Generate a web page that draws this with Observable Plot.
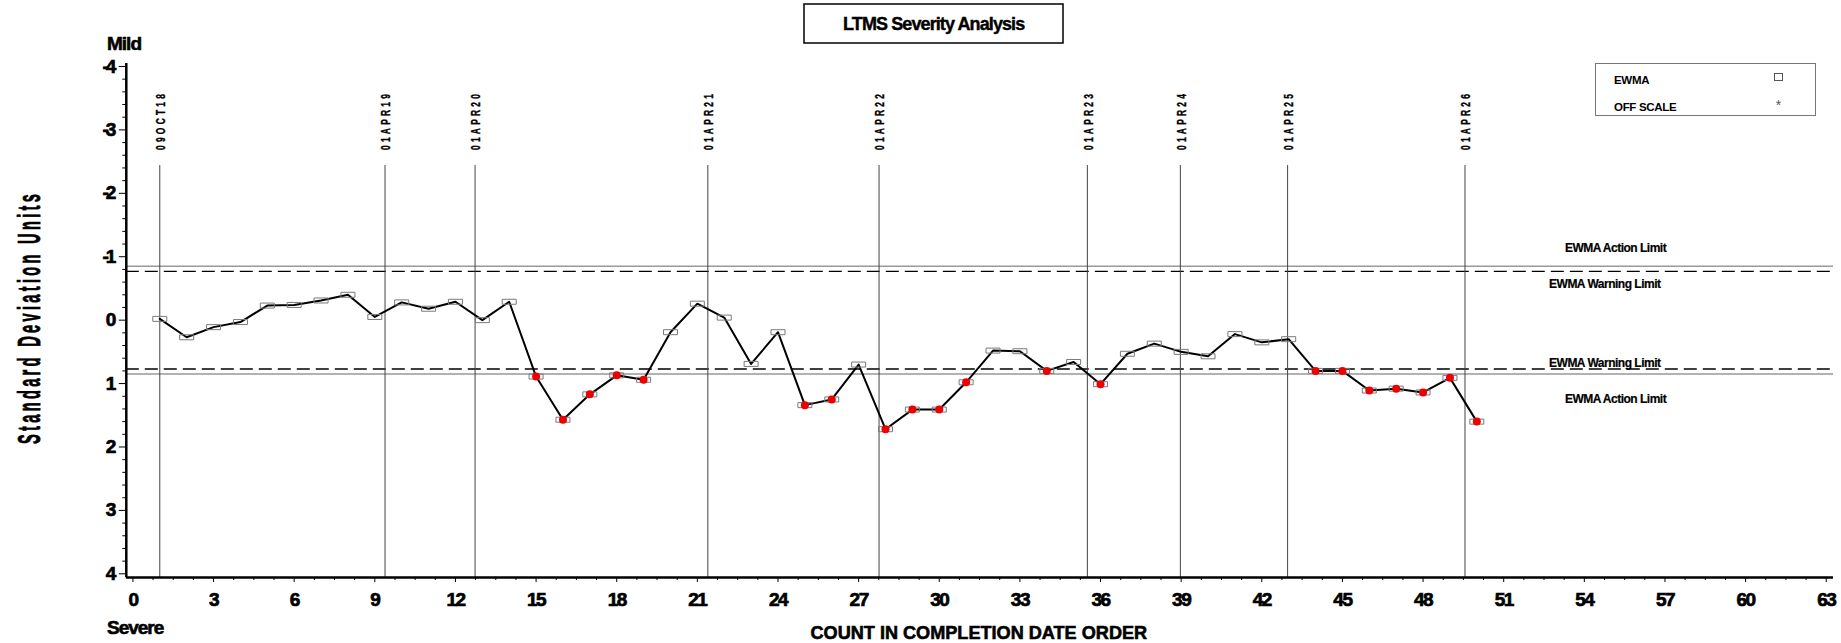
<!DOCTYPE html>
<html>
<head>
<meta charset="utf-8">
<script src="https://cdn.jsdelivr.net/npm/d3@7"></script>
<script src="https://cdn.jsdelivr.net/npm/@observablehq/plot@0.6"></script>
<style>
  body { margin: 0; background: #fff; }
  #chart { position: relative; width: 1841px; height: 643px; }
  #chart svg { display: block; }
</style>
</head>
<body>
<div id="chart"></div>
<script>
// ---- data ----
const counts = d3.range(1, 51);
const ewma = [-0.02, 0.27, 0.11, 0.03, -0.23, -0.24, -0.31, -0.40, -0.05, -0.28,
              -0.18, -0.29, 0.00, -0.29, 0.89, 1.57, 1.17, 0.87, 0.94, 0.19,
              -0.26, -0.04, 0.69, 0.19, 1.34, 1.25, 0.70, 1.72, 1.41, 1.41,
              0.98, 0.48, 0.49, 0.80, 0.66, 1.01, 0.53, 0.37, 0.50, 0.57,
              0.22, 0.35, 0.30, 0.80, 0.80, 1.11, 1.08, 1.14, 0.91, 1.60];
const warningLimit = 0.77;
const actionLimit = 0.85;
const dateLabels = ["09OCT18", "01APR19", "01APR20", "01APR21", "01APR22", "01APR23", "01APR24", "01APR25", "01APR26"];
const datePositions = [1.0, 9.38, 12.73, 21.39, 27.76, 35.51, 38.97, 42.96, 49.56];
const xTicks = d3.range(0, 64, 3);
const xMinor = d3.range(0, 253).map(i => i * 0.75).filter(d => d <= 63 && d % 3 !== 0);
const yTicks = d3.range(-4, 5);
const yMinor = d3.range(-20, 21).map(i => i / 5).filter(d => !Number.isInteger(d));

const points = counts.map((c, i) => ({count: c, value: ewma[i]}));
const offLimit = points.filter(d => Math.abs(d.value) > warningLimit);

const xDomain = [-0.246, 63.27];
const yDomain = [4.058, -4.047];
const font = "'Liberation Sans', Arial, Helvetica, sans-serif";

const boxSymbol = {
  draw(ctx) {
    ctx.moveTo(-7, -2.5); ctx.lineTo(7, -2.5); ctx.lineTo(7, 2.5); ctx.lineTo(-7, 2.5); ctx.closePath();
  }
};

const svg = Plot.plot({
  width: 1841,
  height: 643,
  marginLeft: 125.8,
  marginRight: 8,
  marginTop: 63,
  marginBottom: 66,
  x: {domain: xDomain},
  y: {domain: yDomain},
  style: {fontFamily: font, background: "white", color: "#000", overflow: "visible"},
  marks: [
    Plot.ruleY([-actionLimit, actionLimit], {stroke: "#999", strokeWidth: 1.5}),
    Plot.ruleY([-warningLimit, warningLimit], {stroke: "#000", strokeWidth: 1.3, strokeDasharray: "13,6"}),
    Plot.ruleX(datePositions, {y1: -2.438, y2: yDomain[0], stroke: "#444", strokeWidth: 1}),
    Plot.line(points, {x: "count", y: "value", stroke: "#000", strokeWidth: 2}),
    Plot.dot(points, {x: "count", y: "value", symbol: boxSymbol, stroke: "#7a7a7a", strokeWidth: 1, fill: "none"}),
    Plot.dot(offLimit, {x: "count", y: "value", r: 4, fill: "#ee0000", stroke: "none"}),
    // limit labels
    Plot.text(["EWMA Action Limit"], {x: 55.16, y: -actionLimit, dy: -18.4, text: d => d, fontSize: 12, fontWeight: "bold"}),
    Plot.text(["EWMA Warning Limit"], {x: 54.76, y: -warningLimit, dy: 12.5, text: d => d, fontSize: 12, fontWeight: "bold"}),
    Plot.text(["EWMA Warning Limit"], {x: 54.76, y: warningLimit, dy: -5.7, text: d => d, fontSize: 12, fontWeight: "bold"}),
    Plot.text(["EWMA Action Limit"], {x: 55.16, y: actionLimit, dy: 25.2, text: d => d, fontSize: 12, fontWeight: "bold"}),
    // axes
    Plot.axisX(xTicks, {anchor: "bottom", tickSize: 5, tickPadding: 10, label: null, fontSize: 19, fontWeight: "bold"}),
    Plot.axisX(xMinor, {anchor: "bottom", tickSize: 3, tickFormat: () => "", label: null}),
    Plot.axisY(yTicks, {anchor: "left", tickSize: 7, tickPadding: 6, label: null, fontSize: 19, fontWeight: "bold",
      tickFormat: d => d < 0 ? "-" + (-d) : String(d)}),
    Plot.axisY(yMinor, {anchor: "left", tickSize: 3.5, tickFormat: () => "", label: null}),
    Plot.ruleX([xDomain[0]], {stroke: "#000", strokeWidth: 2.5}),
    Plot.ruleY([yDomain[0]], {stroke: "#000", strokeWidth: 2.5})
  ]
});

document.getElementById("chart").appendChild(svg);
const s = d3.select(svg);

// heavier SAS-like tick labels
s.selectAll("g[aria-label]").each(function () {
  const lab = this.getAttribute("aria-label") || "";
  if (/tick label/.test(lab)) {
    d3.select(this).selectAll("text")
      .style("font-weight", "bold").style("font-size", "19px")
      .style("stroke", "#000").style("stroke-width", "0.7px")
      .style("letter-spacing", /^y/.test(lab) ? "-3px" : "-1.5px");
  }
  if (lab === "text") {
    d3.select(this).selectAll("text").style("letter-spacing", "-0.5px")
      .style("stroke", "#000").style("stroke-width", "0.2px");
  }
});

const ann = s.append("g").attr("font-family", font).attr("fill", "#000").attr("text-anchor", "start");

// helper: text squeezed to a given length along its baseline
function squeezed(parent, txt, cx, cy, rot, len, size, spacing, anchor, sw) {
  const g = parent.append("g").attr("transform", `translate(${cx},${cy}) rotate(${rot})`);
  const t = g.append("text").attr("font-size", size).attr("font-weight", "bold")
    .attr("dominant-baseline", "central").attr("text-anchor", "start")
    .attr("stroke", "#000").attr("stroke-width", sw)
    .style("letter-spacing", spacing + "px").text(txt);
  const w = t.node().getComputedTextLength() - spacing;
  const k = len / w;
  const offset = anchor === "middle" ? -len / 2 : 0;
  t.attr("transform", `translate(${offset},0) scale(${k},1)`);
  return t;
}

function heavy(sel, sw) { return sel.attr("stroke", "#000").attr("stroke-width", sw); }

// date labels (rotated, condensed, letter-spaced)
const xScale = svg.scale("x");
dateLabels.forEach((lab, i) => {
  squeezed(ann, lab, xScale.apply(datePositions[i]) + 1, 150, -90, 56, 13, 5, "start", 0.4);
});

// title box
ann.append("rect").attr("x", 804).attr("y", 4).attr("width", 259).attr("height", 39)
  .attr("fill", "none").attr("stroke", "#000").attr("stroke-width", 1.5);
heavy(ann.append("text").attr("x", 933.7).attr("y", 24).attr("text-anchor", "middle").attr("dominant-baseline", "central")
  .attr("font-size", 18).attr("font-weight", "bold").style("letter-spacing", "-0.9px").text("LTMS Severity Analysis"), 0.4);

// legend
ann.append("rect").attr("x", 1595.5).attr("y", 63.5).attr("width", 220).attr("height", 52)
  .attr("fill", "white").attr("stroke", "#777").attr("stroke-width", 1);
ann.append("text").attr("x", 1614).attr("y", 80).attr("dominant-baseline", "central")
  .attr("font-size", 11.5).attr("font-weight", "bold").style("letter-spacing", "-0.3px").text("EWMA");
ann.append("text").attr("x", 1614).attr("y", 106.5).attr("dominant-baseline", "central")
  .attr("font-size", 11.5).attr("font-weight", "bold").style("letter-spacing", "-0.3px").text("OFF SCALE");
ann.append("rect").attr("x", 1774.5).attr("y", 73.5).attr("width", 8).attr("height", 7)
  .attr("fill", "none").attr("stroke", "#555").attr("stroke-width", 1);
ann.append("text").attr("x", 1778.5).attr("y", 105).attr("text-anchor", "middle").attr("dominant-baseline", "central")
  .attr("font-size", 14).attr("fill", "#555").text("*");

// Mild / Severe
heavy(ann.append("text").attr("x", 107).attr("y", 43).attr("dominant-baseline", "central")
  .attr("font-size", 19).attr("font-weight", "bold").style("letter-spacing", "-1px").text("Mild"), 0.6);
heavy(ann.append("text").attr("x", 107).attr("y", 627).attr("dominant-baseline", "central")
  .attr("font-size", 19).attr("font-weight", "bold").style("letter-spacing", "-1px").text("Severe"), 0.6);

// axis titles
squeezed(ann, "COUNT IN COMPLETION DATE ORDER", 979, 632, 0, 337, 19, 0, "middle", 0.6);
squeezed(ann, "Standard Deviation Units", 29, 319, -90, 250, 31, 7, "middle", 0.8);
</script>
</body>
</html>
